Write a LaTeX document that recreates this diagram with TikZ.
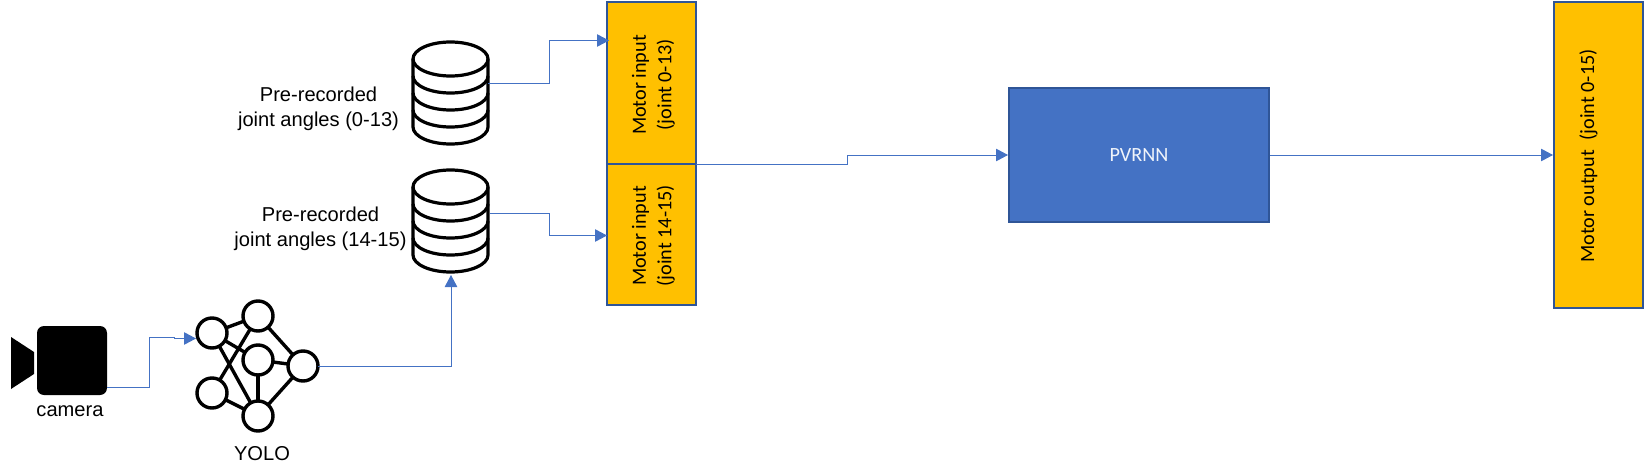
\documentclass[tikz,border=0pt]{standalone}
\usepackage{fontspec}
\setmainfont{Liberation Sans}
\newfontfamily\boxfont{Carlito}
\usetikzlibrary{arrows.meta}
\definecolor{flowblue}{HTML}{4472C4}
\definecolor{edgeblue}{HTML}{2F5597}
\definecolor{motoramber}{HTML}{FFC000}
\tikzset{
  flow/.style={draw=flowblue, line width=0.95pt, -{Triangle[length=12pt,width=12.5pt]}},
  motorbox/.style={draw=edgeblue, line width=2pt, fill=motoramber, inner sep=0pt},
  motortext/.style={rotate=90, align=center, inner sep=0pt, font=\boxfont\fontsize{20.2}{25.5}\selectfont},
  netnode/.style={circle, draw=black, line width=3.4pt, fill=white, minimum size=30pt, inner sep=0pt, outer sep=0pt},
  netedge/.style={draw=black, line width=3.4pt},
  label/.style={align=center, inner sep=0pt, font=\fontsize{20.1}{24.5}\selectfont},
  dbbody/.style={draw=black, line width=3.2pt, fill=white},
  netbox/.style={draw=edgeblue, line width=2pt, fill=flowblue, inner sep=0pt, text=white!92!flowblue, font=\boxfont\fontsize{20.2}{24}\selectfont},
}
\begin{document}
\begin{tikzpicture}[x=1pt, y=-1pt]
  \useasboundingbox (0,0) rectangle (1644,476);
  % camera
  \node[fill=black, rounded corners=7pt, minimum width=70pt, minimum height=69pt, inner sep=0pt] (camera) at (72,360.5) {};
  \fill (11,337) -- (34,352) -- (34,374) -- (11,389) -- cycle;
  \node[label] (cameralabel) at (70,411) {camera};
  % YOLO network
  \foreach \name/\x/\y in {na/212/333, nb/258/316, nc/258/360, nd/303/366, ne/212/393, nf/258/416}{
    \node[netnode] (\name) at (\x,\y) {};}
  \foreach \p/\q in {na/nb, na/nc, na/nf, nb/ne, nb/nd, nc/nd, nc/nf, nd/nf, ne/nf}{
    \draw[netedge] (\p) -- (\q);}
  \node[label] (yololabel) at (262,454) {YOLO};
  % databases
  \foreach \name/\top in {dbone/59, dbtwo/187}{
    \node[minimum width=75pt, minimum height=102pt, inner sep=0pt] (\name) at (450.5,\top+34) {};
    \draw[dbbody] (413,\top) -- (413,\top+68) arc[start angle=180, end angle=360, x radius=37.5, y radius=-17]
      -- (488,\top) arc[start angle=0, end angle=180, x radius=37.5, y radius=-17] -- cycle;
    \foreach \k in {0,17,34,51}{
      \draw[dbbody, fill=none] (413,\top+\k) arc[start angle=180, end angle=360, x radius=37.5, y radius=-17];}
  }
  \node[label] (dbonelabel) at (318.5,109) {Pre-recorded\\joint angles (0-13)};
  \node[label] (dbtwolabel) at (320.5,229) {Pre-recorded\\joint angles (14-15)};
  % motor boxes
  \node[motorbox, minimum width=89pt, minimum height=162pt] (motorone) at (651.5,83) {};
  \node[motorbox, minimum width=89pt, minimum height=141pt] (motortwo) at (651.5,234.5) {};
  \node[motortext] (motoronetext) at (653.5,85) {Motor input\\(joint 0-13)};
  \node[motortext] (motortwotext) at (653.5,236) {Motor input\\(joint 14-15)};
  \node[netbox, minimum width=260pt, minimum height=134pt] (pvrnn) at (1139,155) {\rule{0pt}{0pt}\raisebox{-1pt}{PVRNN}};
  \node[motorbox, minimum width=89pt, minimum height=306pt] (motorout) at (1598.5,155) {};
  \node[motortext] (motorouttext) at (1588.5,156) {Motor output\ \ (joint 0-15)};
  % connectors
  \coordinate (camout) at (107,387);
  \coordinate (yoloin) at (196,338.5);
  \coordinate (dboneout) at (488,83.5);
  \coordinate (dbtwoout) at (490,213);
  \coordinate (dbtwoin) at (451,275);
  \coordinate (motoronein) at (609,40.5);
  \coordinate (motortwoin) at (607,235.5);
  \coordinate (motoroneout) at (696,164);
  \draw[flow] (camout) -- (149,387) -- (149,337) -- (174,337) -- (174,338.5) -- (yoloin);
  \draw[flow] (nd.east) -- (451,366) -- (dbtwoin);
  \draw[flow] (dboneout) -- (549,83.5) -- (549,40.5) -- (motoronein);
  \draw[flow] (dbtwoout) -- (549,213) -- (549,235.5) -- (motortwoin);
  \draw[flow] (motoroneout) -- (847,164) -- (847,155) -- (pvrnn.west);
  \draw[flow] (pvrnn.east) -- (motorout.west);
\end{tikzpicture}
\end{document}
